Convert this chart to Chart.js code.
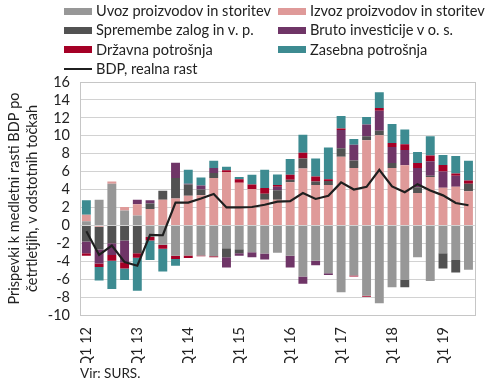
<!DOCTYPE html>
<html><head><meta charset="utf-8">
<script src="https://cdn.jsdelivr.net/npm/chart.js@4.4.1/dist/chart.umd.min.js"></script>
<style>
html,body{margin:0;padding:0;background:#fff;}
#wrap{position:relative;width:490px;height:381px;font-family:Lato,"Open Sans",sans-serif;color:#222;}
#legend{position:absolute;left:0;top:0;width:490px;height:80px;}
.li{position:absolute;font-size:14.6px;line-height:16px;white-space:nowrap;}
.sw{position:absolute;width:28px;}
#src{position:absolute;left:80px;top:365px;font-size:13.5px;}
</style></head>
<body>
<div id="wrap">
<canvas id="c" width="490" height="381"></canvas>
<div id="legend"></div>
<div id="src">Vir: SURS.</div>
</div>
<script>
const quarters = ["Q1 12","Q2 12","Q3 12","Q4 12","Q1 13","Q2 13","Q3 13","Q4 13","Q1 14","Q2 14","Q3 14","Q4 14","Q1 15","Q2 15","Q3 15","Q4 15","Q1 16","Q2 16","Q3 16","Q4 16","Q1 17","Q2 17","Q3 17","Q4 17","Q1 18","Q2 18","Q3 18","Q4 18","Q1 19","Q2 19","Q3 19"];
const uvoz = [0.45,2.85,4.65,1.65,1.1,-1.3,-2.15,-3.4,-3.35,-3.35,-3.45,-2.55,-2.65,-3.0,-3.15,-3.05,-3.4,-5.7,-3.95,-5.35,-7.45,-5.6,-7.85,-8.7,-6.9,-6.1,-3.55,-6.2,-3.1,-3.85,-4.95];
const izvoz = [0.75,-0.15,0.25,0.4,1.25,1.83,2.87,3.0,3.3,3.35,5.3,5.95,4.75,4.05,2.87,2.87,4.8,6.35,4.5,4.5,7.65,6.4,9.5,10.05,6.4,6.7,3.6,5.4,4.2,4.3,3.8];
const zaloge = [-1.8,-2.55,-2.0,-1.7,-3.1,0.6,1.0,2.3,1.25,0.65,0.55,-1.0,-0.45,0,0.65,1.05,0.3,1.1,0.4,0.45,0.95,0.85,0.45,0.5,0.55,-0.8,0.65,0.15,-1.7,-1.4,0.85];
const investicije = [-1.3,-1.55,-1.3,-2.4,0.5,0.37,0,1.7,0.1,0.45,0.55,-1.15,-0.3,-0.55,-0.65,0.4,-1.3,-0.8,-0.5,-0.2,2.05,1.75,1.3,2.25,1.8,1.7,2.15,1.6,1.8,1.25,0];
const drzavna = [-0.3,-0.4,-0.65,-0.7,-0.5,-0.38,-0.45,-0.35,-0.3,-0.1,-0.1,0.2,0.4,0.5,0.65,0.2,0.55,0.65,0.55,0.2,0.15,-0.1,-0.1,0.3,0.45,0.65,0.55,0.65,0.75,0.25,0.35];
const zasebna = [1.6,-1.5,-3.15,-1.3,-3.7,-2.17,-2.55,-0.75,1.55,0.9,0.8,0.4,0.25,1.1,2.05,1.15,1.75,2.0,2.0,3.55,1.4,0.65,0.85,1.75,2.1,1.65,1.25,2.15,1.1,1.95,2.2];
const bdp = [-0.65,-3.3,-2.25,-4.1,-4.5,-1.05,-1.1,2.55,2.55,3.0,3.5,2.0,2.0,2.05,2.3,2.65,2.7,3.6,2.95,3.3,4.8,4.0,4.3,6.2,4.35,3.7,4.6,3.9,3.35,2.5,2.25];
const yTicks = [-10,-8,-6,-4,-2,0,2,4,6,8,10,12,14,16];

const names = ["Uvoz proizvodov in storitev","Izvoz proizvodov in storitev","Spremembe zalog in v. p.","Bruto investicije v o. s.","Državna potrošnja","Zasebna potrošnja","BDP, realna rast"];
const colors = ["#979797","#df9a99","#525252","#6f3567","#a50026","#3d8b91","#1f1f1f"];
const series = [uvoz, izvoz, zaloge, investicije, drzavna, zasebna];

const datasets = series.map((d,i)=>({
  type:'bar', label:names[i], data:d, backgroundColor:colors[i],
  stack:'s', order:1, barPercentage:0.7, categoryPercentage:1.0
}));
datasets.push({type:'line', label:names[6], data:bdp, borderColor:colors[6], borderWidth:2.2,
  pointRadius:0, fill:false, tension:0, stack:'line', order:0});

const frame = {id:'frame', afterDraw(ch){
  const a = ch.chartArea, c = ch.ctx;
  c.save(); c.strokeStyle='#c6c6c6'; c.lineWidth=1;
  c.strokeRect(Math.round(a.left)+0.5, Math.round(a.top)+0.5, Math.round(a.right-a.left), Math.round(a.bottom-a.top));
  c.restore();
}};

const chart = new Chart(document.getElementById('c'), {
  data:{labels:quarters, datasets},
  options:{
    responsive:false, animation:false,
    layout:{padding:{top:82,right:8,bottom:18,left:0}},
    plugins:{legend:{display:false}, tooltip:{enabled:false}},
    scales:{
      x:{stacked:true, grid:{display:false}, border:{display:true,color:'#c6c6c6'},
        ticks:{autoSkip:false, maxRotation:90, minRotation:90, padding:4, color:'#222',
          font:{family:'Lato', size:14.5},
          callback:(v,i)=> i%4===0 ? quarters[i] : ''},
        afterFit:s=>{s.height = 48;}},
      y:{stacked:true, min:-10, max:16,
        afterBuildTicks:s=>{s.ticks = yTicks.map(v=>({value:v}));},
        grid:{color:'#d2d2d2', lineWidth:1, drawTicks:false},
        border:{display:true,color:'#c6c6c6'},
        ticks:{autoSkip:false, padding:10, color:'#222', font:{family:'Lato', size:14.5}},
        title:{display:true, text:["Prispevki k medletni rasti BDP po","četrtletjih, v odstotnih točkah"],
          color:'#222', font:{family:'Lato', size:14.5, lineHeight:1.2}, padding:{top:6,bottom:0}},
        afterFit:s=>{s.width = 80;}}
    }
  },
  plugins:[frame]
});

// legend
const lg = document.getElementById('legend');
const rowsY = [11,30.3,49.7,69];
chart.data.datasets.forEach((ds,i)=>{
  const col = i%2, row = Math.floor(i/2);
  const bx = col===0 ? 64 : 278;
  const y = rowsY[row];
  const sw = document.createElement('div');
  sw.className='sw';
  sw.style.left = bx+'px';
  if (ds.type==='line'){ sw.style.top=(y-1)+'px'; sw.style.height='2px'; sw.style.background=ds.borderColor; }
  else { sw.style.top=(y-3.5)+'px'; sw.style.height='7px'; sw.style.background=ds.backgroundColor; }
  lg.appendChild(sw);
  const t = document.createElement('div');
  t.className='li'; t.textContent = ds.label;
  t.style.left = (bx+32)+'px'; t.style.top = (y-8)+'px';
  lg.appendChild(t);
});
</script>
</body></html>
